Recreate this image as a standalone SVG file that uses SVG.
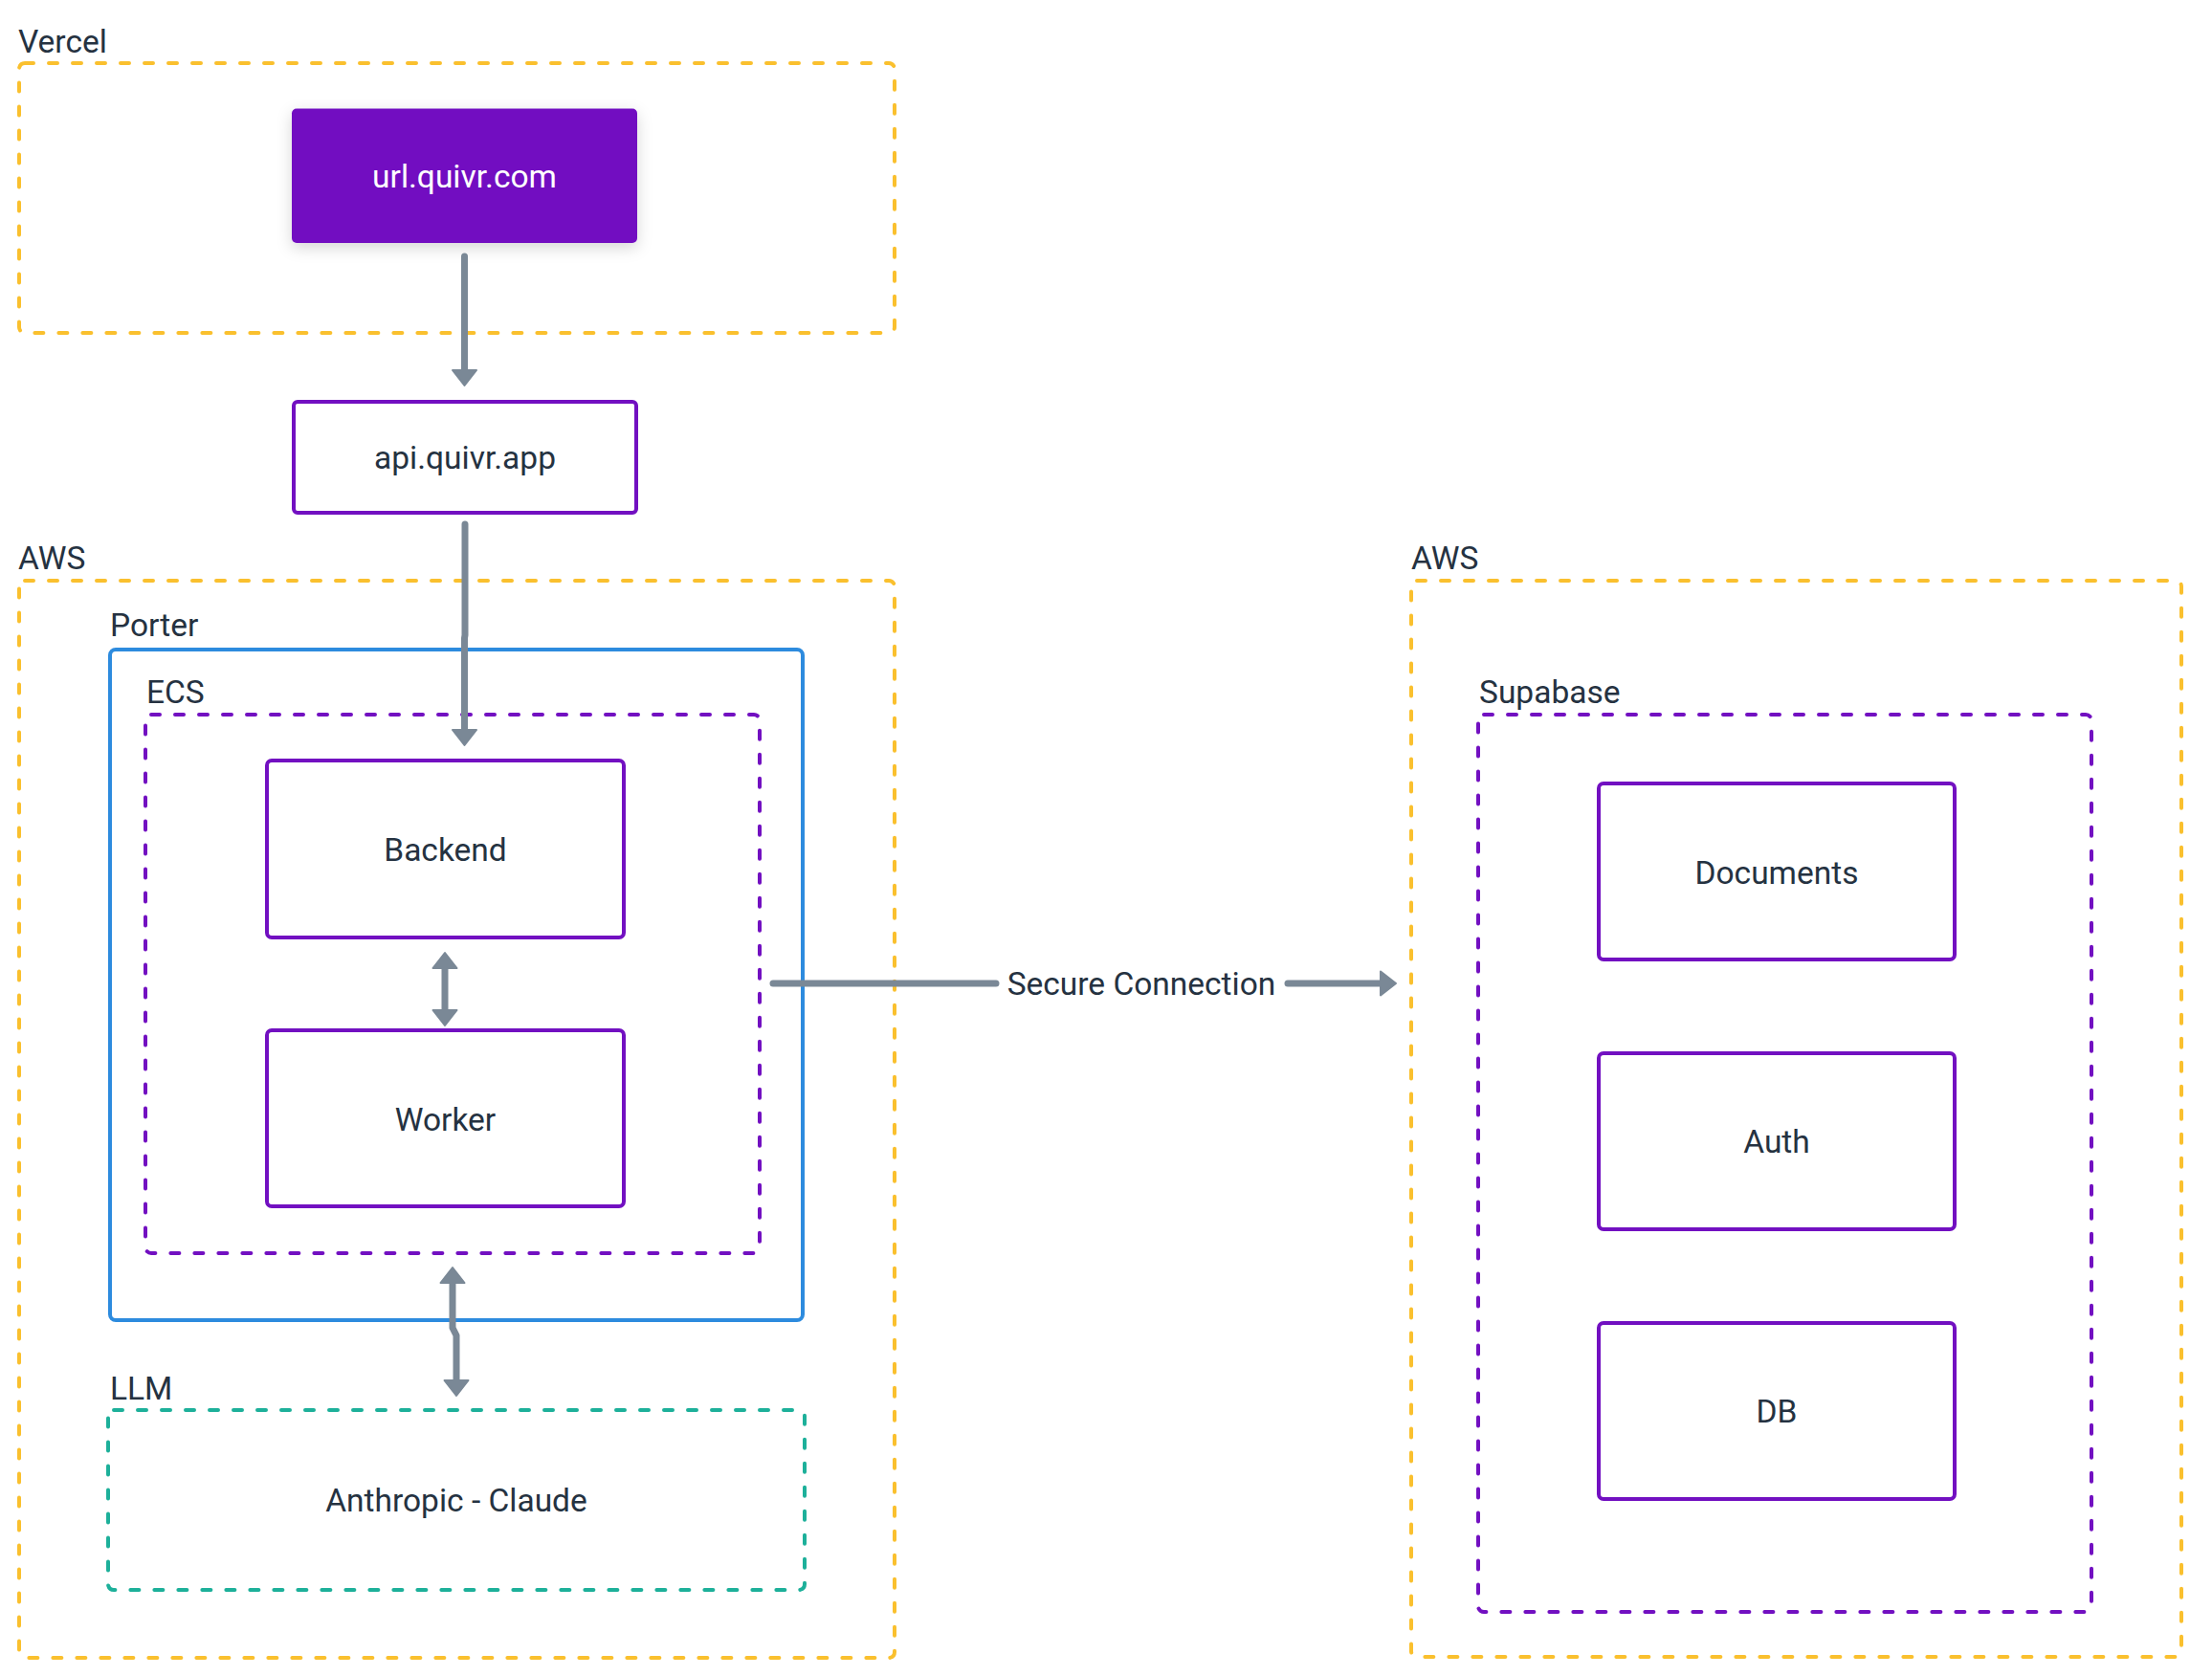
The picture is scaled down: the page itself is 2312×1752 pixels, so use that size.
<svg xmlns="http://www.w3.org/2000/svg" width="2312" height="1752" viewBox="0 0 2312 1752">
<style>
text{font-family:Roboto,"Noto Sans","DejaVu Sans",sans-serif;font-size:33.5px;fill:#253241}
.c{text-anchor:middle}
.grp{fill:none;stroke-width:4;stroke-linecap:round;stroke-dasharray:9 16}
.y{stroke:#FAC02E}
.p{stroke:#7210C1}
.t{stroke:#1DB09A}
.box{fill:#fff;stroke:#7210C1;stroke-width:4}
.edge{fill:none;stroke:#7A8896;stroke-width:7;stroke-linecap:round;stroke-linejoin:round}
</style>
<defs>
<marker id="arr" markerUnits="userSpaceOnUse" viewBox="0 0 18 27" refX="8" refY="13.5" markerWidth="18" markerHeight="27" orient="auto-start-reverse" overflow="visible">
<path d="M1,1 L17,13.5 L1,26 Z" fill="#7A8896" stroke="#7A8896" stroke-width="2" stroke-linejoin="round"/>
</marker>
<filter id="sh" x="-20%" y="-30%" width="140%" height="170%">
<feDropShadow dx="0" dy="5" stdDeviation="8" flood-color="#000" flood-opacity="0.16"/>
</filter>
</defs>
<rect width="2312" height="1752" fill="#fff"/>

<g id="vercel">
<text x="19" y="55">Vercel</text>
<rect class="grp y" x="20" y="66" width="915" height="282" rx="6"/>
</g>
<g id="aws-left">
<text x="19" y="595">AWS</text>
<rect class="grp y" x="20" y="607" width="915" height="1126" rx="6"/>
</g>
<g id="porter">
<text x="115" y="665">Porter</text>
<rect x="115" y="679" width="724" height="701" rx="6" fill="none" stroke="#2D8BDE" stroke-width="4"/>
</g>
<g id="ecs">
<text x="153" y="735">ECS</text>
<rect class="grp p" x="152" y="747" width="642" height="563" rx="6"/>
</g>
<g id="llm">
<text x="115" y="1463">LLM</text>
<rect class="grp t" x="113" y="1474" width="728" height="188" rx="6"/>
<text class="c" x="477" y="1580">Anthropic - Claude</text>
</g>
<g id="aws-right">
<text x="1475" y="595">AWS</text>
<rect class="grp y" x="1475" y="607" width="805" height="1125" rx="6"/>
</g>
<g id="supabase">
<text x="1546" y="735">Supabase</text>
<rect class="grp p" x="1545" y="747" width="641" height="938" rx="6"/>
</g>

<g id="url-quivr-com">
<rect x="305" y="113.5" width="361" height="140.5" rx="5" fill="#7210C1" filter="url(#sh)"/>
<text class="c" x="485.5" y="196" style="fill:#fff">url.quivr.com</text>
</g>
<g id="api-quivr-app">
<rect class="box" x="307" y="420" width="358" height="116" rx="4"/>
<text class="c" x="486" y="490">api.quivr.app</text>
</g>
<g id="backend">
<rect class="box" x="279" y="795" width="373" height="185" rx="5"/>
<text class="c" x="465.5" y="900">Backend</text>
</g>
<g id="worker">
<rect class="box" x="279" y="1077" width="373" height="184" rx="5"/>
<text class="c" x="465.5" y="1182">Worker</text>
</g>
<g id="documents">
<rect class="box" x="1671" y="819" width="372" height="184" rx="5"/>
<text class="c" x="1857" y="924">Documents</text>
</g>
<g id="auth">
<rect class="box" x="1671" y="1101" width="372" height="184" rx="5"/>
<text class="c" x="1857" y="1205">Auth</text>
</g>
<g id="db">
<rect class="box" x="1671" y="1383" width="372" height="184" rx="5"/>
<text class="c" x="1857" y="1487">DB</text>
</g>

<g id="connectors">
<path class="edge" d="M485.5,268 V394" marker-end="url(#arr)"/>
<path class="edge" d="M486,548 V664 L485.5,667 V770" marker-end="url(#arr)"/>
<path class="edge" d="M465,1005 V1063" marker-start="url(#arr)" marker-end="url(#arr)"/>
<path class="edge" d="M473,1334 V1388 L477,1396 V1450" marker-start="url(#arr)" marker-end="url(#arr)"/>
<path class="edge" d="M808,1028 H1041"/>
<path class="edge" d="M1346,1028 H1450" marker-end="url(#arr)"/>
<text class="c" x="1193" y="1040">Secure Connection</text>
</g>
</svg>
